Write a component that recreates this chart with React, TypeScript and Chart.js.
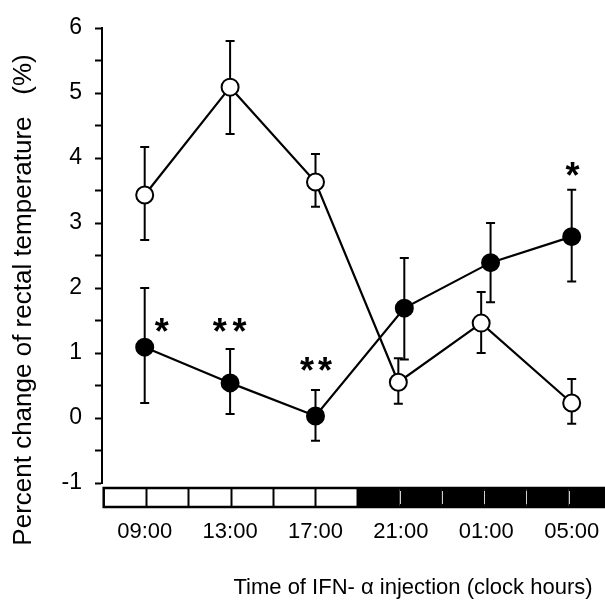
import { useEffect, useRef } from 'react';
import { Chart, registerables } from 'chart.js';

Chart.register(...registerables);

// ---- data ----
const timeLabels = ['09:00', '13:00', '17:00', '21:00', '01:00', '05:00'];
const timeIndex = [0, 1, 2, 3, 4, 5];
const openDodge = [0, 0, 0, -0.03, -0.06, 0];
const filledDodge = [0, 0, 0, 0.04, 0.05, 0];

const openMean = [3.43, 5.09, 3.63, 0.55, 1.46, 0.23];
const openHigh = [4.17, 5.8, 4.06, 0.92, 1.94, 0.6];
const openLow = [2.74, 4.37, 3.25, 0.22, 1.0, -0.09];

const filledMean = [1.09, 0.54, 0.03, 1.69, 2.39, 2.79];
const filledHigh = [2.0, 1.06, 0.43, 2.46, 3.0, 3.51];
const filledLow = [0.23, 0.06, -0.35, 0.9, 1.78, 2.1];

// significance asterisks (x in time-index units, y in %)
const starX = [0.2, 0.88, 1.11, 1.9, 2.11, 5.01];
const starY = [1.46, 1.45, 1.45, 0.85, 0.85, 3.85];

// light/dark phases of the day, 12 cells
const phaseCells = ['light', 'light', 'light', 'light', 'light', 'light', 'dark', 'dark', 'dark', 'dark', 'dark', 'dark'];
const phaseStart = -0.48;
const phaseStep = 0.495;

const yMin = -1;
const yMax = 6;
const yStep = 0.5;

const xTitle = 'Time of IFN- \u03b1 injection (clock hours)';
const yTitle = 'Percent change of rectal temperature   (%)';

const FONT = '"Liberation Sans", Arial, Helvetica, sans-serif';

const errorBarPlugin = {
  id: 'errorBars',
  beforeDatasetsDraw(chart: any) {
    const ctx = chart.ctx;
    const ys = chart.scales.y;
    chart.data.datasets.forEach((ds: any, di: number) => {
      const meta = chart.getDatasetMeta(di);
      ctx.save();
      ctx.strokeStyle = '#000';
      ctx.lineWidth = 2;
      meta.data.forEach((pt: any, i: number) => {
        const x = pt.x;
        const yh = ys.getPixelForValue(ds.errHigh[i]);
        const yl = ys.getPixelForValue(ds.errLow[i]);
        ctx.beginPath();
        ctx.moveTo(x, yh);
        ctx.lineTo(x, yl);
        ctx.moveTo(x - 4.5, yh);
        ctx.lineTo(x + 4.5, yh);
        ctx.moveTo(x - 4.5, yl);
        ctx.lineTo(x + 4.5, yl);
        ctx.stroke();
      });
      ctx.restore();
    });
  },
};

const decorPlugin = {
  id: 'decor',
  afterDraw(chart: any) {
    const ctx = chart.ctx;
    const xs = chart.scales.x;
    const ys = chart.scales.y;
    const area = chart.chartArea;

    // light / dark bar
    const top = area.bottom + 5;
    const h = 19;
    const right = chart.width;
    const edges = phaseCells.map((_, i) => xs.getPixelForValue(phaseStart + i * phaseStep));
    edges.push(right);
    ctx.save();
    phaseCells.forEach((p, i) => {
      const x0 = edges[i];
      const x1 = Math.min(edges[i + 1], right);
      ctx.fillStyle = p === 'dark' ? '#000' : '#fff';
      ctx.fillRect(x0, top, x1 - x0, h);
    });
    // dividers
    phaseCells.forEach((p, i) => {
      if (i === 0) return;
      const x = Math.round(edges[i]) + 0.5;
      ctx.beginPath();
      if (p === 'dark' && phaseCells[i - 1] === 'dark') {
        ctx.strokeStyle = '#d0d0d0';
        ctx.lineWidth = 1;
        ctx.moveTo(x, top + 3);
        ctx.lineTo(x, top + h - 3);
      } else {
        ctx.strokeStyle = '#000';
        ctx.lineWidth = 2;
        ctx.moveTo(x, top);
        ctx.lineTo(x, top + h);
      }
      ctx.stroke();
    });
    ctx.strokeStyle = '#000';
    ctx.lineWidth = 2.5;
    ctx.strokeRect(edges[0], top, right - edges[0] + 2, h);
    ctx.restore();

    // asterisks
    ctx.save();
    ctx.fillStyle = '#000';
    ctx.font = `bold 36px ${FONT}`;
    ctx.textAlign = 'center';
    ctx.textBaseline = 'alphabetic';
    starX.forEach((sx, i) => {
      const px = xs.getPixelForValue(sx);
      const py = ys.getPixelForValue(starY[i]);
      ctx.fillText('*', px, py + 0.57 * 36);
    });
    ctx.restore();

    // axis titles
    ctx.save();
    ctx.fillStyle = '#000';
    ctx.textAlign = 'center';
    ctx.textBaseline = 'middle';
    ctx.font = `22px ${FONT}`;
    ctx.fillText(xTitle, 413, 588);
    ctx.translate(24, 300);
    ctx.rotate(-Math.PI / 2);
    ctx.font = `26px ${FONT}`;
    ctx.fillText(yTitle, 0, 0);
    ctx.restore();
  },
};

export default function App() {
  const ref = useRef<HTMLCanvasElement | null>(null);

  useEffect(() => {
    document.body.style.margin = '0';
    const canvas = ref.current;
    if (!canvas) return;
    const chart = new Chart(canvas, {
      type: 'line',
      data: {
        datasets: [
          {
            label: 'filled',
            data: timeIndex.map((t, i) => ({ x: t + filledDodge[i], y: filledMean[i] })),
            errHigh: filledHigh,
            errLow: filledLow,
            borderColor: '#000',
            borderWidth: 2.2,
            backgroundColor: '#000',
            pointBackgroundColor: '#000',
            pointBorderColor: '#000',
            pointBorderWidth: 2,
            pointRadius: 8.5,
            pointHoverRadius: 8.5,
            tension: 0,
            clip: false,
          } as any,
          {
            label: 'open',
            data: timeIndex.map((t, i) => ({ x: t + openDodge[i], y: openMean[i] })),
            errHigh: openHigh,
            errLow: openLow,
            borderColor: '#000',
            borderWidth: 2.2,
            backgroundColor: '#fff',
            pointBackgroundColor: '#fff',
            pointBorderColor: '#000',
            pointBorderWidth: 2,
            pointRadius: 8.5,
            pointHoverRadius: 8.5,
            tension: 0,
            clip: false,
          } as any,
        ],
      },
      options: {
        animation: false,
        responsive: false,
        maintainAspectRatio: false,
        events: [],
        layout: { autoPadding: false, padding: { top: 28, left: 0, right: 0, bottom: 0 } },
        plugins: {
          legend: { display: false },
          tooltip: { enabled: false },
        },
        scales: {
          x: {
            type: 'linear',
            min: -0.5,
            max: 5.39,
            afterFit(scale: any) {
              scale.height = 120;
              scale.paddingLeft = 0;
              scale.paddingRight = 0;
            },
            afterBuildTicks(scale: any) {
              scale.ticks = timeIndex.map((v) => ({ value: v }));
            },
            grid: { display: false, drawTicks: false },
            border: { display: false },
            ticks: {
              padding: 36,
              color: '#000',
              font: { family: FONT, size: 22 },
              maxRotation: 0,
              autoSkip: false,
              callback: (v: any) => timeLabels[Math.round(Number(v))] ?? '',
            },
          },
          y: {
            type: 'linear',
            min: yMin,
            max: yMax,
            afterFit(scale: any) {
              scale.width = 102;
            },
            grid: {
              drawOnChartArea: false,
              drawTicks: true,
              tickLength: 7,
              tickColor: '#000',
              tickWidth: 2,
            },
            border: { display: true, color: '#000', width: 2 },
            ticks: {
              stepSize: yStep,
              padding: 13,
              color: '#000',
              font: { family: FONT, size: 23 },
              autoSkip: false,
              callback: (v: any) => (Number.isInteger(Number(v)) ? String(v) : ''),
            },
          },
        },
      },
      plugins: [errorBarPlugin, decorPlugin],
    } as any);
    return () => chart.destroy();
  }, []);

  return (
    <div style={{ width: 605, height: 603 }}>
      <canvas ref={ref} width={605} height={603} style={{ display: 'block' }} />
    </div>
  );
}
